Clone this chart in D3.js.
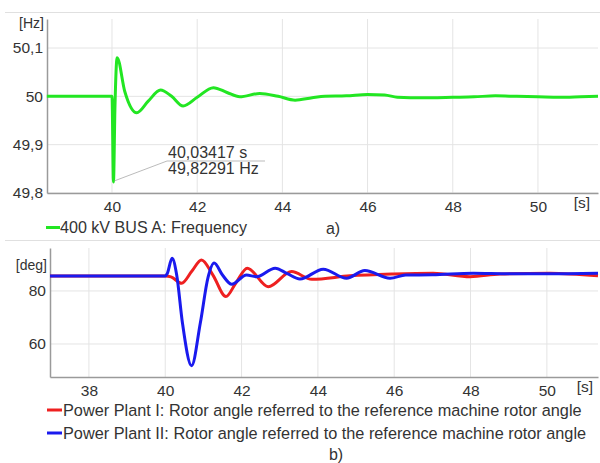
<!DOCTYPE html>
<html><head><meta charset="utf-8">
<script src="https://cdn.jsdelivr.net/npm/d3@7"></script>
<style>
body{margin:0;background:#fff;}
svg text{font-family:"Liberation Sans",Arial,sans-serif;fill:#333;}
</style></head>
<body><svg id="c" width="600" height="463"></svg>
<script>
// ---- data ----
const freqT = [38.47,40.0,40.034,40.07,40.12,40.3,40.58,40.85,41.14,41.4,41.67,42.0,42.38,42.7,43.0,43.47,43.9,44.3,44.7,45.0,45.5,46.0,46.4,46.7,47.0,47.5,48.0,48.5,49.0,49.5,50.0,50.5,51.0,51.41];
const freqV = [50.0,50.0,49.823,49.98,50.08,50.01,49.966,49.99,50.013,50.0,49.980,49.998,50.018,50.008,49.999,50.006,50.0,49.992,49.997,50.0,50.001,50.004,50.003,49.998,49.997,49.997,49.998,49.999,50.001,50.0,49.999,49.998,49.999,50.0];
const freqTicksY = [49.8,49.9,50.0,50.1];
const freqTickLabelsY = ["49,8","49,9","50","50,1"];
const freqTicksX = [40,42,44,46,48,50];

const ppIT = [36.98,40.0,40.15,40.43,40.7,40.95,41.25,41.59,41.85,42.15,42.70,43.31,43.84,44.84,45.97,47.02,47.99,48.77,50.08,51.34];
const ppIV = [85.6,85.6,85.3,82.9,87.5,91.7,86.0,77.9,83.0,88.6,81.6,87.3,84.4,85.7,86.4,86.7,85.4,86.4,86.7,85.7];
const ppIIT = [36.98,40.0,40.05,40.18,40.3,40.45,40.69,40.92,41.12,41.28,41.5,41.74,42.13,42.39,42.88,43.2,43.53,44.14,44.75,45.23,45.89,46.3,47.0,48.07,49.0,50.0,51.34];
const ppIIV = [85.6,85.6,86.5,92.3,86.0,68.0,51.8,68.0,85.0,90.5,86.0,82.5,86.0,85.4,88.6,86.5,84.5,88.2,84.8,87.7,84.8,86.0,86.1,86.7,86.5,86.5,86.7];
const angTicksY = [60,80];
const angTicksX = [38,40,42,44,46,48,50];

const legendA = "400 kV BUS A: Frequency";
const legendB1 = "Power Plant I: Rotor angle referred to the reference machine rotor angle";
const legendB2 = "Power Plant II: Rotor angle referred to the reference machine rotor angle";

// ---- drawing ----
const svg = d3.select("#c");
const gridC = "#e4e4e4", axisC = "#9a9a9a";

// frame lines
svg.append("line").attr("x1",5).attr("x2",600).attr("y1",12.5).attr("y2",12.5).attr("stroke","#e0e0e0");
svg.append("line").attr("x1",5).attr("x2",600).attr("y1",240.5).attr("y2",240.5).attr("stroke","#e0e0e0");

function panel(opt){
  const x = d3.scaleLinear().domain(opt.xd).range([opt.l,opt.r]);
  const y = d3.scaleLinear().domain(opt.yd).range([opt.b,opt.t]);
  const g = svg.append("g");
  // grid
  g.selectAll(".vg").data(opt.xt).join("line").attr("x1",d=>x(d)).attr("x2",d=>x(d))
    .attr("y1",opt.t).attr("y2",opt.b).attr("stroke",gridC);
  g.selectAll(".hg").data(opt.yt).join("line").attr("y1",d=>y(d)).attr("y2",d=>y(d))
    .attr("x1",opt.l).attr("x2",opt.r).attr("stroke",gridC);
  // axes
  const ax = d3.axisBottom(x).tickValues(opt.xt).tickSize(0).tickPadding(8).tickFormat(d=>d);
  const gx = g.append("g").attr("transform",`translate(0,${opt.b})`).call(ax);
  gx.select(".domain").attr("stroke",axisC).attr("stroke-width",1.5);
  gx.selectAll("text").attr("font-size",15.5).attr("fill","#333").attr("font-family","Liberation Sans, Arial, sans-serif");
  const ay = d3.axisLeft(y).tickValues(opt.yt).tickSize(0).tickPadding(4).tickFormat(opt.yf);
  const gy = g.append("g").attr("transform",`translate(${opt.l},0)`).call(ay);
  gy.select(".domain").attr("stroke",axisC).attr("stroke-width",1.5);
  gy.selectAll("text").attr("font-size",15.5).attr("fill","#333").attr("font-family","Liberation Sans, Arial, sans-serif");
  // unit labels
  g.append("text").attr("x",opt.l-3).attr("y",opt.uy).attr("text-anchor","end").attr("font-size",14).text(opt.unit);
  g.append("text").attr("x",opt.sx).attr("y",opt.b+15).attr("text-anchor","middle").attr("font-size",15.5).text("[s]");
  const line = d3.line().x(d=>x(d[0])).y(d=>y(d[1])).curve(d3.curveMonotoneX);
  opt.series.forEach(s=>{
    g.append("path").datum(d3.zip(s.t,s.v)).attr("d",line).attr("fill","none")
      .attr("stroke",s.c).attr("stroke-width",3).attr("stroke-linejoin","round");
  });
  return {x,y};
}

const A = panel({xd:[38.474,51.41], yd:[49.8,50.16], l:47, r:598, t:19, b:193,
  xt:freqTicksX, yt:freqTicksY, yf:(d,i)=>freqTickLabelsY[freqTicksY.indexOf(d)],
  unit:"[Hz]", uy:28, sx:582,
  series:[{t:freqT,v:freqV,c:"#22e622"}]});

// annotation
const ax0 = A.x(freqT[2]), ay0 = A.y(freqV[2]);
svg.append("path").attr("d",`M${ax0+1},${ay0-1}L167,161L265,161`).attr("fill","none").attr("stroke","#aaa").attr("stroke-width",0.8);
svg.append("text").attr("x",168).attr("y",158).attr("font-size",16).text("40,03417 s");
svg.append("text").attr("x",168).attr("y",174).attr("font-size",16).text("49,82291 Hz");

// legend a
svg.append("line").attr("x1",46).attr("x2",60).attr("y1",227.5).attr("y2",227.5).attr("stroke","#22e622").attr("stroke-width",3);
svg.append("text").attr("x",60).attr("y",233).attr("font-size",16.1).text(legendA);
svg.append("text").attr("x",333).attr("y",234).attr("text-anchor","middle").attr("font-size",16).text("a)");

const B = panel({xd:[36.98,51.34], yd:[47.55,96.2], l:50, r:598, t:248, b:377,
  xt:angTicksX, yt:angTicksY, yf:d=>d,
  unit:"[deg]", uy:270, sx:585,
  series:[{t:ppIT,v:ppIV,c:"#ee2020"},{t:ppIIT,v:ppIIV,c:"#1a1aee"}]});

svg.append("line").attr("x1",47).attr("x2",62).attr("y1",410).attr("y2",410).attr("stroke","#ee2020").attr("stroke-width",3);
svg.append("text").attr("x",63).attr("y",415.5).attr("font-size",16.3).text(legendB1);
svg.append("line").attr("x1",47).attr("x2",62).attr("y1",433).attr("y2",433).attr("stroke","#1a1aee").attr("stroke-width",3);
svg.append("text").attr("x",63).attr("y",438.5).attr("font-size",16.3).text(legendB2);
svg.append("text").attr("x",336).attr("y",460).attr("text-anchor","middle").attr("font-size",16).text("b)");
</script></body></html>
